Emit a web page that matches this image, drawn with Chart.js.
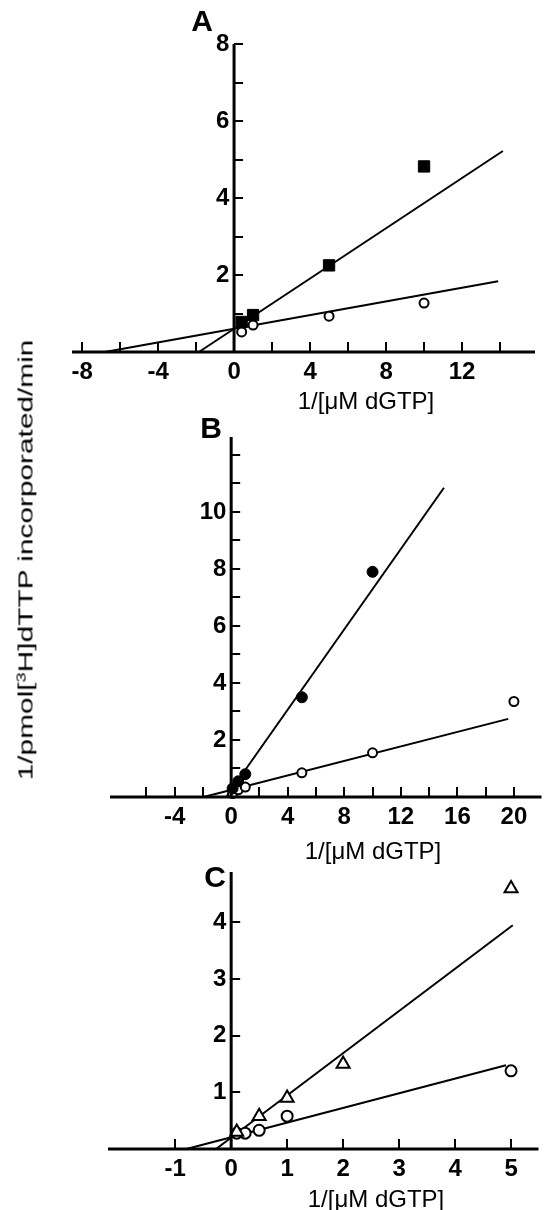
<!DOCTYPE html>
<html>
<head>
<meta charset="utf-8">
<script src="https://cdn.jsdelivr.net/npm/chart.js@4.4.1/dist/chart.umd.min.js"></script>
<style>
  html, body { margin: 0; padding: 0; background: #fff; }
  #wrap { position: relative; width: 548px; height: 1210px; overflow: hidden;
          font-family: "Liberation Sans", Arial, sans-serif; color: #000; }
  canvas { position: absolute; left: 0; }
  .panel { position: absolute; font-weight: bold; font-size: 30px; line-height: 1;
           transform: translate(-50%, -50%); }
  .xtitle { position: absolute; font-size: 24px; line-height: 1; white-space: nowrap;
            transform: translate(-50%, -50%); }
  #ytitle { position: absolute; left: 25px; top: 560px; font-size: 21px; line-height: 1;
            white-space: nowrap; transform: translate(-50%, -50%) rotate(-90deg) scaleX(1.42); }
  #ytitle sup { font-size: 13px; vertical-align: 7px; }
</style>
</head>
<body>
<div id="wrap">
  <canvas id="chartA" width="548" height="390" style="top:0px"></canvas>
  <canvas id="chartB" width="548" height="450" style="top:390px"></canvas>
  <canvas id="chartC" width="548" height="370" style="top:840px"></canvas>

  <div class="panel" style="left:202px; top:21px">A</div>
  <div class="panel" style="left:211px; top:428px">B</div>
  <div class="panel" style="left:215px; top:877px">C</div>

  <div class="xtitle" style="left:366px; top:401px">1/[&mu;M dGTP]</div>
  <div class="xtitle" style="left:373px; top:851px">1/[&mu;M dGTP]</div>
  <div class="xtitle" style="left:376px; top:1199px">1/[&mu;M dGTP]</div>

  <div id="ytitle">1/pmol[<sup>3</sup>H]dTTP incorporated/min</div>
</div>

<script>
// ---- Panel A ----
const aFilledX = [0.4, 1, 5, 10];
const aFilledY = [0.78, 0.96, 2.25, 4.82];
const aOpenX = [0.4, 1, 5, 10];
const aOpenY = [0.52, 0.7, 0.93, 1.27];
const aFilledLineX = [-1.85, 14.15];
const aFilledLineY = [0, 5.22];
const aOpenLineX = [-6.8, 13.9];
const aOpenLineY = [0, 1.84];
const aXTicks = [-8, -6, -4, -2, 2, 4, 6, 8, 10, 12, 14];
const aXLabels = [-8, -4, 0, 4, 8, 12];
const aYTicks = [1, 2, 3, 4, 5, 6, 7, 8];
const aYLabels = [2, 4, 6, 8];

// ---- Panel B ----
const bFilledX = [0.1, 0.5, 1, 5, 10];
const bFilledY = [0.3, 0.55, 0.8, 3.5, 7.9];
const bOpenX = [0.1, 0.5, 1, 5, 10, 20];
const bOpenY = [0.12, 0.25, 0.35, 0.85, 1.55, 3.35];
const bFilledLineX = [-0.35, 15.05];
const bFilledLineY = [0, 10.85];
const bOpenLineX = [-1.95, 19.6];
const bOpenLineY = [0, 2.74];
const bXTicks = [-6, -4, -2, 2, 4, 6, 8, 10, 12, 14, 16, 18, 20];
const bXLabels = [-4, 0, 4, 8, 12, 16, 20];
const bYTicks = [1, 2, 3, 4, 5, 6, 7, 8, 9, 10, 11, 12];
const bYLabels = [2, 4, 6, 8, 10];

// ---- Panel C ----
const cTriX = [0.1, 0.5, 1, 2, 5];
const cTriY = [0.3, 0.58, 0.9, 1.5, 4.6];
const cOpenX = [0.1, 0.25, 0.5, 1, 5];
const cOpenY = [0.28, 0.28, 0.33, 0.58, 1.38];
const cTriLineX = [-0.27, 5.03];
const cTriLineY = [0, 3.95];
const cOpenLineX = [-0.8, 4.91];
const cOpenLineY = [0, 1.48];
const cXTicks = [-1, 1, 2, 3, 4, 5];
const cXLabels = [-1, 0, 1, 2, 3, 4, 5];
const cYTicks = [1, 2, 3, 4];
const cYLabels = [1, 2, 3, 4];

const pts = (xs, ys) => xs.map((x, i) => ({ x: x, y: ys[i] }));

// crossing axes + inward tick marks, drawn from the chart's scales
const crossAxes = {
    id: 'crossAxes',
    afterDatasetsDraw(chart, args, opts) {
        const { ctx, chartArea, scales: { x, y } } = chart;
        const x0 = x.getPixelForValue(0);
        const y0 = y.getPixelForValue(0);
        ctx.save();
        ctx.strokeStyle = '#000';
        ctx.lineCap = 'butt';
        ctx.lineWidth = 3;
        ctx.beginPath();
        ctx.moveTo(chartArea.left, y0);
        ctx.lineTo(chartArea.right, y0);
        ctx.moveTo(x0, y0);
        ctx.lineTo(x0, chartArea.top);
        ctx.stroke();
        ctx.lineWidth = 2;
        ctx.beginPath();
        opts.xTicks.forEach(v => {
            const px = Math.round(x.getPixelForValue(v));
            ctx.moveTo(px, y0);
            ctx.lineTo(px, y0 - 10);
        });
        opts.yTicks.forEach(v => {
            const py = Math.round(y.getPixelForValue(v));
            ctx.moveTo(x0, py);
            ctx.lineTo(x0 + 9, py);
        });
        ctx.stroke();
        ctx.restore();
    }
};

function zeroPad(s) {
    s.paddingTop = 0; s.paddingBottom = 0; s.paddingLeft = 0; s.paddingRight = 0;
}

function makePanel(id, p) {
    const tickFont = { family: "'Liberation Sans', Arial, sans-serif", size: 24, weight: 'bold' };
    new Chart(document.getElementById(id), {
        type: 'scatter',
        data: { datasets: p.datasets },
        options: {
            responsive: false,
            animation: false,
            layout: { padding: p.padding },
            plugins: {
                legend: { display: false },
                tooltip: { enabled: false },
                crossAxes: { xTicks: p.xTicks, yTicks: p.yTicks }
            },
            scales: {
                x: {
                    type: 'linear',
                    min: p.xMin, max: p.xMax,
                    position: { y: 0 },
                    grid: { display: false, drawTicks: false },
                    border: { display: false },
                    afterBuildTicks: s => { s.ticks = p.xLabels.map(v => ({ value: v })); },
                    afterFit: zeroPad,
                    ticks: { color: '#000', font: tickFont, padding: 6, maxRotation: 0, autoSkip: false }
                },
                y: {
                    type: 'linear',
                    min: 0, max: p.yMax,
                    position: { x: 0 },
                    grid: { display: false, drawTicks: false },
                    border: { display: false },
                    afterBuildTicks: s => { s.ticks = p.yLabels.map(v => ({ value: v })); },
                    afterFit: zeroPad,
                    // trailing thin space keeps the right-aligned label off the axis line
                    ticks: { color: '#000', font: tickFont, autoSkip: false,
                             callback: v => v + '\u2009' }
                }
            }
        },
        plugins: [crossAxes]
    });
}

const lineStyle = { showLine: true, borderColor: '#000', borderWidth: 2, pointRadius: 0, clip: false };
const openMark = { backgroundColor: '#fff', borderColor: '#000', pointBorderWidth: 2, clip: false };

makePanel('chartA', {
    padding: { left: 72, right: 13, top: 44, bottom: 38 },
    xMin: -8.53, xMax: 15.84, yMax: 8,
    xTicks: aXTicks, xLabels: aXLabels, yTicks: aYTicks, yLabels: aYLabels,
    datasets: [
        { data: pts(aFilledX, aFilledY), pointStyle: 'rect', pointRadius: 8,
          backgroundColor: '#000', borderColor: '#000', clip: false },
        { data: pts(aOpenX, aOpenY), pointStyle: 'circle', pointRadius: 4.5, ...openMark },
        { data: pts(aFilledLineX, aFilledLineY), ...lineStyle },
        { data: pts(aOpenLineX, aOpenLineY), ...lineStyle }
    ]
});

makePanel('chartB', {
    padding: { left: 110, right: 0, top: 47, bottom: 43 },
    xMin: -8.57, xMax: 21.95, yMax: 12.63,
    xTicks: bXTicks, xLabels: bXLabels, yTicks: bYTicks, yLabels: bYLabels,
    datasets: [
        { data: pts(bFilledX, bFilledY), pointStyle: 'circle', pointRadius: 5.5,
          backgroundColor: '#000', borderColor: '#000', clip: false },
        { data: pts(bOpenX, bOpenY), pointStyle: 'circle', pointRadius: 4.5, ...openMark },
        { data: pts(bFilledLineX, bFilledLineY), ...lineStyle },
        { data: pts(bOpenLineX, bOpenLineY), ...lineStyle }
    ]
});

makePanel('chartC', {
    padding: { left: 108, right: 0, top: 32, bottom: 61 },
    xMin: -2.2, xMax: 5.49, yMax: 4.89,
    xTicks: cXTicks, xLabels: cXLabels, yTicks: cYTicks, yLabels: cYLabels,
    datasets: [
        { data: pts(cTriX, cTriY), pointStyle: 'triangle', pointRadius: 7.5, ...openMark },
        { data: pts(cOpenX, cOpenY), pointStyle: 'circle', pointRadius: 5.5, ...openMark },
        { data: pts(cTriLineX, cTriLineY), ...lineStyle },
        { data: pts(cOpenLineX, cOpenLineY), ...lineStyle }
    ]
});
</script>
</body>
</html>
